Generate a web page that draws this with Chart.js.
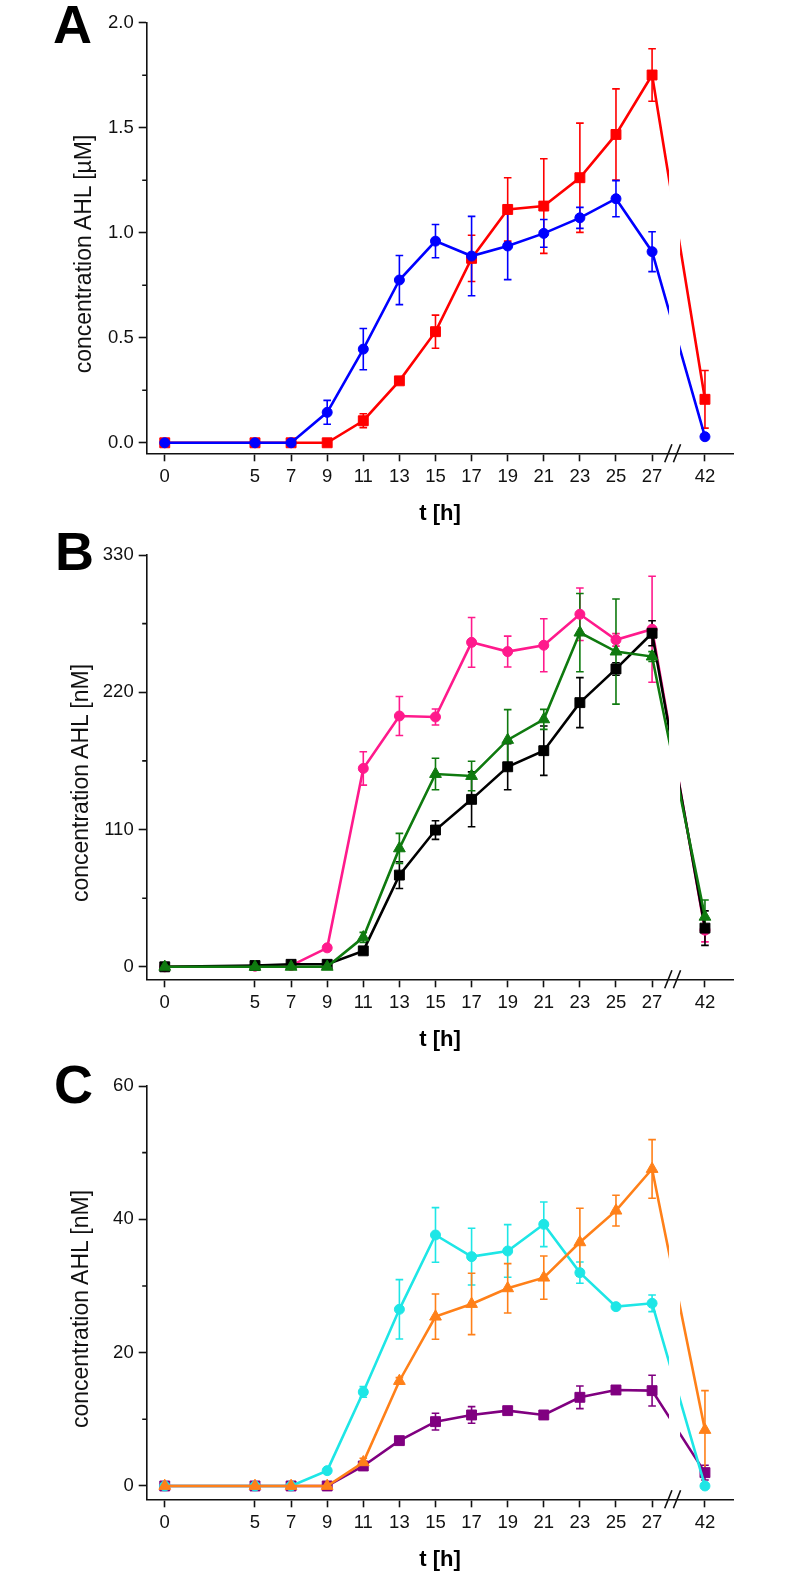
<!DOCTYPE html>
<html>
<head>
<meta charset="utf-8">
<script src="https://cdn.jsdelivr.net/npm/chart.js@4.4.1/dist/chart.umd.min.js"></script>
<style>
  body { margin: 0; background: #fff; }
  #wrap { position: relative; width: 790px; height: 1595px; overflow: hidden; }
  canvas { position: absolute; left: 0; }
  .panel { position: absolute; font: bold 54px "Liberation Sans", Arial, sans-serif; line-height: 1; color: #000; }
  .ytitle { position: absolute; font: 23px "Liberation Sans", Arial, sans-serif; line-height: 1; color: #111;
            white-space: nowrap; transform: translate(-50%, -50%) rotate(-90deg); }
</style>
</head>
<body>
<div id="wrap">
  <canvas id="chartA" width="790" height="530" style="top:0px"></canvas>
  <canvas id="chartB" width="790" height="530" style="top:530px"></canvas>
  <canvas id="chartC" width="790" height="535" style="top:1060px"></canvas>
  <div class="panel" style="left:53px;top:-3px">A</div>
  <div class="panel" style="left:55px;top:524px">B</div>
  <div class="panel" style="left:54px;top:1057px">C</div>
  <div class="ytitle" style="left:83px;top:254px">concentration AHL [µM]</div>
  <div class="ytitle" style="left:80px;top:783px">concentration AHL [nM]</div>
  <div class="ytitle" style="left:80px;top:1309px">concentration AHL [nM]</div>
</div>
<script>
// Sampling times (h). 42 h sits after the axis break.
var hours = [0, 5, 7, 9, 11, 13, 15, 17, 19, 21, 23, 25, 27, 42];
var xTickLabels = ["0", "5", "7", "9", "11", "13", "15", "17", "19", "21", "23", "25", "27", "42"];

// Axis break: 42 h is drawn at 29.93 on the axis.
var breakAfter = 27;
var shown42 = 29.93;
var gapFrom = 27.94, gapTo = 28.55;
var slashAt = [27.90, 28.38];

// Panel A (µM)
var redA = [0, 0, 0, 0, 0.105, 0.295, 0.529, 0.878, 1.111, 1.127, 1.262, 1.468, 1.751, 0.207];
var redAErr = [0, 0, 0, 0, 0.033, 0.015, 0.079, 0.11, 0.151, 0.225, 0.26, 0.217, 0.125, 0.137];
var blueA = [0, 0, 0, 0.145, 0.446, 0.775, 0.960, 0.889, 0.937, 0.997, 1.071, 1.162, 0.910, 0.029];
var blueAErr = [0, 0, 0, 0.057, 0.098, 0.117, 0.079, 0.189, 0.16, 0.066, 0.05, 0.086, 0.095, 0.01];
var yTicksA = [0, 0.5, 1.0, 1.5, 2.0];
var yMinorA = [0.25, 0.75, 1.25, 1.75];

// Panel B (nM)
var pinkB = [0, 0.5, 1, 15.2, 159, 201, 200.2, 260, 252.6, 257.7, 282.5, 262, 270.5, 29.4];
var pinkBErr = [0, 0, 0, 2, 13.4, 15.6, 6.4, 19.9, 12.4, 21.2, 21, 5, 42.5, 9.4];
var blackB = [0, 1, 2, 2, 12.8, 73.5, 109.6, 134.2, 160.3, 173.2, 211.7, 238.7, 267.3, 31];
var blackBErr = [0, 0, 0, 0, 2, 10.7, 7.5, 22, 18.4, 19.8, 20, 5, 10, 13.8];
var greenB = [0, 0, 0, 0, 23.6, 94.9, 154.5, 152.9, 181.8, 198.3, 267.8, 252.6, 248.6, 40.1];
var greenBErr = [0, 0, 0, 0, 4, 12, 12.6, 11.8, 24.3, 8, 31.4, 42.1, 4, 13.4];
var yTicksB = [0, 110, 220, 330];
var yMinorB = [55, 165, 275];

// Panel C (nM)
var purpleC = [0, 0, 0, 0, 3.0, 6.8, 9.65, 10.65, 11.3, 10.65, 13.3, 14.4, 14.3, 2.0];
var purpleCErr = [0, 0, 0, 0, 0.5, 0.5, 1.25, 1.25, 0.5, 0.4, 1.7, 0.4, 2.3, 1.1];
var cyanC = [0, 0, 0, 2.3, 14.1, 26.5, 37.65, 34.4, 35.25, 39.25, 32.0, 26.9, 27.4, 0];
var cyanCErr = [0, 0, 0, 0.3, 0.8, 4.45, 4.1, 4.25, 3.95, 3.35, 1.6, 0.3, 1.25, 0.2];
var orangeC = [0, 0, 0, 0, 3.55, 15.75, 25.4, 27.3, 29.65, 31.25, 36.55, 41.3, 47.55, 8.4];
var orangeCErr = [0, 0, 0, 0, 0.6, 0.5, 3.4, 4.6, 3.7, 3.25, 5.1, 2.3, 4.4, 5.9];
var yTicksC = [0, 20, 40, 60];
var yMinorC = [10, 30, 50];

var axisColor = "#111";
var fontName = "'Liberation Sans', Arial, sans-serif";

// Position on the broken axis for an hour value.
function xPos(h) {
  return h > breakAfter ? shown42 + (h - 42) : h;
}

function makeSeries(values, errors, color, shape, radius) {
  return {
    data: values.map(function (v, i) { return { x: xPos(hours[i]), y: v }; }),
    errors: errors,
    borderColor: color,
    backgroundColor: color,
    borderWidth: 2.6,
    pointStyle: shape,
    pointRadius: radius,
    pointBorderWidth: 1,
    pointBorderColor: color,
    pointBackgroundColor: color,
    tension: 0,
    fill: false
  };
}

// Error bars, axis break and minor ticks.
var extrasPlugin = {
  id: "extras",
  beforeDatasetsDraw: function (chart) {
    var ctx = chart.ctx, xs = chart.scales.x, ys = chart.scales.y;
    chart.data.datasets.slice().reverse().forEach(function (ds) {
      ctx.save();
      ctx.strokeStyle = ds.borderColor;
      ctx.lineWidth = 1.6;
      ds.data.forEach(function (p, j) {
        var e = ds.errors[j];
        if (!e) return;
        var px = xs.getPixelForValue(p.x);
        var top = ys.getPixelForValue(p.y + e);
        var bot = ys.getPixelForValue(p.y - e);
        ctx.beginPath();
        ctx.moveTo(px, top); ctx.lineTo(px, bot);
        ctx.moveTo(px - 3.8, top); ctx.lineTo(px + 3.8, top);
        ctx.moveTo(px - 3.8, bot); ctx.lineTo(px + 3.8, bot);
        ctx.stroke();
      });
      ctx.restore();
    });
  },
  afterDatasetsDraw: function (chart) {
    var ctx = chart.ctx, xs = chart.scales.x, area = chart.chartArea;
    var a = xs.getPixelForValue(gapFrom), b = xs.getPixelForValue(gapTo);
    ctx.save();
    ctx.fillStyle = "#fff";
    ctx.fillRect(a, 0, b - a, area.bottom - 1);
    ctx.restore();
  },
  afterDraw: function (chart) {
    var ctx = chart.ctx, xs = chart.scales.x, ys = chart.scales.y, area = chart.chartArea;
    ctx.save();
    ctx.strokeStyle = axisColor;
    ctx.lineWidth = 1.6;
    ctx.beginPath();
    slashAt.forEach(function (v) {
      var px = xs.getPixelForValue(v);
      ctx.moveTo(px - 3.6, area.bottom + 9);
      ctx.lineTo(px + 3.6, area.bottom - 9);
    });
    chart.options.plugins.extras.minor.forEach(function (v) {
      var py = ys.getPixelForValue(v);
      ctx.moveTo(area.left, py);
      ctx.lineTo(area.left - 4.5, py);
    });
    ctx.stroke();
    ctx.restore();
  }
};

function makeChart(id, datasets, yMin, yMax, yTicks, yMinor, digits, pad) {
  return new Chart(document.getElementById(id), {
    type: "line",
    data: { datasets: datasets },
    plugins: [extrasPlugin],
    options: {
      responsive: false,
      animation: false,
      layout: { padding: pad },
      plugins: {
        legend: { display: false },
        tooltip: { enabled: false },
        extras: { minor: yMinor }
      },
      scales: {
        x: {
          type: "linear",
          min: -1,
          max: 31.5,
          afterBuildTicks: function (scale) {
            scale.ticks = hours.map(function (h) { return { value: xPos(h) }; });
          },
          afterFit: function (scale) { scale.height = 75; },
          ticks: {
            autoSkip: false,
            maxRotation: 0,
            padding: 5,
            color: axisColor,
            font: { family: fontName, size: 18.5 },
            callback: function (value, index) { return xTickLabels[index]; }
          },
          grid: { drawOnChartArea: false, drawTicks: true, tickLength: 8, tickColor: axisColor, tickWidth: 1.6 },
          border: { display: true, color: axisColor, width: 1.6 },
          title: {
            display: true,
            text: "t [h]",
            color: "#000",
            font: { family: fontName, size: 22, weight: "bold" },
            padding: { top: 0, bottom: 0.8 }
          }
        },
        y: {
          min: yMin,
          max: yMax,
          afterBuildTicks: function (scale) {
            scale.ticks = yTicks.map(function (v) { return { value: v }; });
          },
          afterFit: function (scale) { scale.width = 146.7; },
          ticks: {
            padding: 5,
            color: axisColor,
            font: { family: fontName, size: 18.5 },
            callback: function (value) { return value.toFixed(digits); }
          },
          grid: { drawOnChartArea: false, drawTicks: true, tickLength: 8, tickColor: axisColor, tickWidth: 1.6 },
          border: { display: true, color: axisColor, width: 1.6 }
        }
      }
    }
  });
}

// Chart.js paints the first dataset on top, so the topmost series comes first.
makeChart("chartA", [
  makeSeries(blueA, blueAErr, "#0000ff", "circle", 5),
  makeSeries(redA, redAErr, "#ff0000", "rect", 7)
], -0.05, 2.0, yTicksA, yMinorA, 1, { top: 22.7, right: 56.7, bottom: 1.7, left: 0 });

makeChart("chartB", [
  makeSeries(greenB, greenBErr, "#0f7a0f", "triangle", 6.8),
  makeSeries(blackB, blackBErr, "#000000", "rect", 7),
  makeSeries(pinkB, pinkBErr, "#ff1a8c", "circle", 5)
], -10, 330, yTicksB, yMinorB, 0, { top: 25, right: 56.7, bottom: 5.7, left: 0 });

makeChart("chartC", [
  makeSeries(orangeC, orangeCErr, "#ff8019", "triangle", 6.8),
  makeSeries(cyanC, cyanCErr, "#1ee6e6", "circle", 5),
  makeSeries(purpleC, purpleCErr, "#800080", "rect", 7)
], -2, 60, yTicksC, yMinorC, 0, { top: 26, right: 56.7, bottom: 20.7, left: 0 });
</script>
</body>
</html>
